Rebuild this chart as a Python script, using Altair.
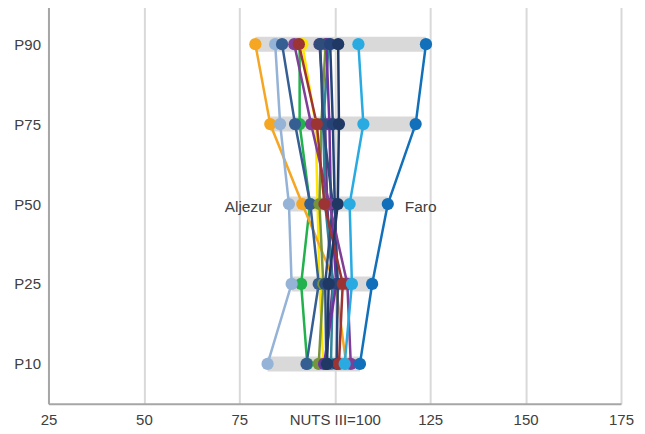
import altair as alt
import pandas as pd

percentiles = ["P90", "P75", "P50", "P25", "P10"]

names = ["Olhão", "Monchique", "Lagos", "Aljezur", "Silves", "Lagoa", "Tavira",
         "Castro Marim", "Alcoutim", "São Brás", "VRSA", "Loulé", "Portimão",
         "Albufeira", "Vila do Bispo", "Faro"]
colors = ["#22B14C", "#FFE600", "#F5A623", "#95B3D7", "#355E93", "#5A3E86", "#77933C",
          "#31849B", "#7030A0", "#2E4D7B", "#264478", "#7E3F98", "#9C3434",
          "#1F3864", "#29ABE2", "#1170B9"]

# values at P90, P75, P50, P25, P10 (NUTS III = 100)
v_olhao      = [90.8, 90.8, 93.5, 91.2, 92.8]
v_monchique  = [91.5, 95.0, 95.5, 96.0, 97.0]
v_lagos      = [79.2, 83.1, 91.5, 100.2, 103.0]
v_aljezur    = [84.4, 85.7, 88.0, 88.7, 82.4]
v_silves     = [86.2, 89.6, 93.6, 95.8, 92.6]
v_lagoa      = [96.0, 97.5, 98.0, 99.5, 97.7]
v_tavira     = [97.6, 96.5, 96.0, 97.0, 95.8]
v_castro     = [98.4, 97.0, 97.5, 99.5, 99.0]
v_alcoutim   = [97.8, 98.6, 99.0, 100.4, 97.2]
v_sbras      = [96.2, 96.9, 99.5, 97.5, 97.8]
v_vrsa       = [98.8, 99.5, 100.0, 100.8, 100.5]
v_loule      = [89.4, 93.8, 98.6, 103.3, 104.2]
v_portimao   = [90.6, 95.3, 97.3, 102.1, 101.1]
v_albufeira  = [100.9, 101.1, 100.8, 98.4, 98.0]
v_vbispo     = [106.2, 107.5, 103.9, 104.5, 102.6]
v_faro       = [123.9, 121.2, 113.9, 109.8, 106.6]

series = [v_olhao, v_monchique, v_lagos, v_aljezur, v_silves, v_lagoa, v_tavira,
          v_castro, v_alcoutim, v_sbras, v_vrsa, v_loule, v_portimao,
          v_albufeira, v_vbispo, v_faro]

rows = []
for n, vals in zip(names, series):
    for i, (p, v) in enumerate(zip(percentiles, vals)):
        rows.append({"name": n, "pct": p, "value": v, "ord": i})
df = pd.DataFrame(rows)

xscale = alt.Scale(domain=[25, 175], nice=False, zero=False)
yscale = alt.Scale(type="point", padding=0.5)
yaxis = alt.Axis(title=None, ticks=False, tickSize=0, labelPadding=8,
                 labelFontSize=15, labelColor="#404040", labelFont="Liberation Sans",
                 domainColor="#a6a6a6", domainWidth=2, grid=False)
xaxis = alt.Axis(title=None, values=[25, 50, 75, 100, 125, 150, 175],
                 labelExpr="datum.value == 100 ? 'NUTS III=100' : datum.label",
                 ticks=False, tickSize=0, labelPadding=9, labelFontSize=15,
                 labelColor="#404040", labelFont="Liberation Sans",
                 grid=True, gridColor="#d9d9d9", gridWidth=2,
                 domainColor="#a6a6a6", domainWidth=2, labelFlush=False)
yenc = alt.Y("pct:N", sort=percentiles, scale=yscale, axis=yaxis)
xenc = alt.X("value:Q", scale=xscale, axis=xaxis)

base = alt.Chart(df)

bars = base.mark_rule(color="#d9d9d9", strokeWidth=15).encode(
    x=alt.X("min(value):Q", scale=xscale, axis=xaxis),
    x2="max(value):Q",
    y=yenc,
)

cscale = alt.Scale(domain=names, range=colors)

lines = base.mark_line(strokeWidth=2.5).encode(
    x=xenc, y=yenc,
    color=alt.Color("name:N", scale=cscale, legend=None, sort=names),
    order=alt.Order("ord:Q"),
)

points = base.mark_circle(size=150, opacity=1).encode(
    x=xenc, y=yenc,
    color=alt.Color("name:N", scale=cscale, legend=None, sort=names),
)

lab_left = base.transform_filter(
    "datum.name == 'Aljezur' && datum.pct == 'P50'"
).mark_text(align="right", baseline="middle", dx=-17, dy=3, fontSize=15.5,
            color="#404040", font="Liberation Sans").encode(
    x=xenc, y=yenc, text="name:N")

lab_right = base.transform_filter(
    "datum.name == 'Faro' && datum.pct == 'P50'"
).mark_text(align="left", baseline="middle", dx=17, dy=3, fontSize=15.5,
            color="#404040", font="Liberation Sans").encode(
    x=xenc, y=yenc, text="name:N")

chart = alt.layer(bars, lines, points, lab_left, lab_right).properties(
    width=573, height=400,
    autosize=alt.AutoSizeParams(type="none"),
    padding={"left": 40.5, "top": -4, "right": 16, "bottom": 30},
).configure_view(stroke=None)

chart.save("out.html", embed_options={"renderer": "svg", "actions": False})
